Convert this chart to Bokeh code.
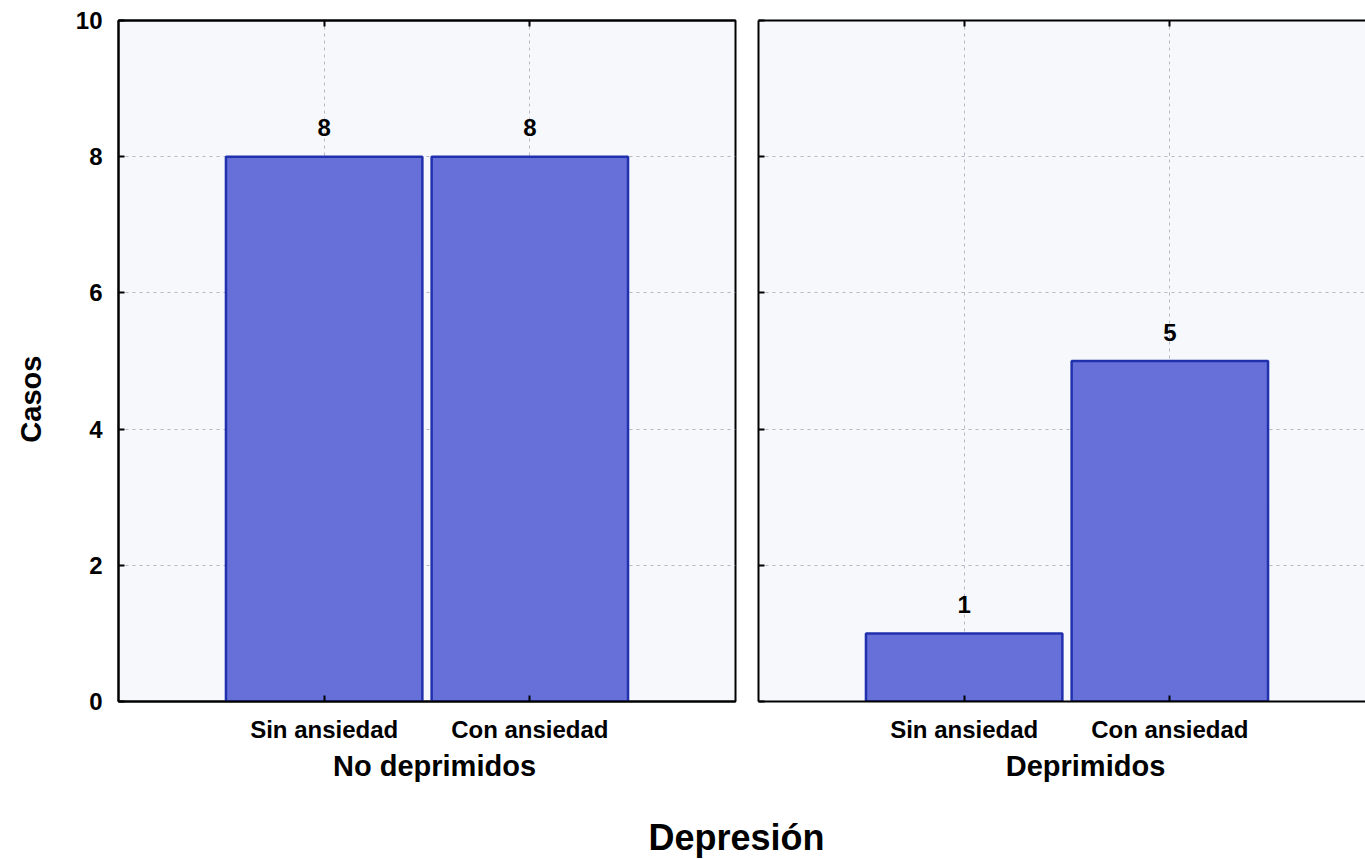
import numpy as np
from bokeh.plotting import figure
from bokeh.models import Range1d, FixedTicker, Label, LinearAxis, ColumnDataSource
from bokeh.layouts import row, column
from bokeh.embed import file_html
from bokeh.resources import INLINE
from bokeh.core.properties import value

# ---- data ----
categories = ["Sin ansiedad", "Con ansiedad"]
groups = ["No deprimidos", "Deprimidos"]
counts_no_deprimidos = [8, 8]
counts_deprimidos = [1, 5]
y_ticks = [0, 2, 4, 6, 8, 10]
y_title = "Casos"
x_title = "Depresión"

# ---- style ----
FONT = "Liberation Sans"
BAR_FILL = "#6670d8"
BAR_LINE = "#2131ad"
GRID = "#b4b8c4"
BG = "#f6f8fc"
ROW_H = 750

x_pos = list(range(1, len(categories) + 1))
x_overrides = {float(i): c for i, c in zip(x_pos, categories)}


def blank_fig(width, height, x0, x1, y_bottom, y_top):
    f = figure(width=width, height=height, x_range=Range1d(x0, x1),
               y_range=Range1d(y_bottom, y_top), output_backend="svg",
               toolbar_location=None, min_border=0, min_border_left=0,
               min_border_right=0, min_border_top=0, min_border_bottom=0,
               border_fill_color="white", background_fill_color="white")
    f.xaxis.visible = False
    f.yaxis.visible = False
    f.xgrid.visible = False
    f.ygrid.visible = False
    f.outline_line_color = None
    return f


def style_ticks(ax):
    ax.major_tick_in = 6
    ax.major_tick_out = 0
    ax.minor_tick_line_color = None
    ax.major_tick_line_width = 2
    ax.major_tick_line_color = "black"
    ax.axis_line_width = 2
    ax.axis_line_color = "black"


def make_panel(values, width, xmax, border_left, border_right, show_y_labels, outline):
    p = figure(width=width, height=ROW_H, x_range=Range1d(0, xmax), y_range=Range1d(0, 10),
               output_backend="svg", toolbar_location=None,
               min_border_left=border_left, min_border_right=border_right,
               min_border_top=20, min_border_bottom=ROW_H - 701,
               background_fill_color=BG, border_fill_color="white")
    src = ColumnDataSource(dict(x=x_pos, top=values, cat=categories,
                                label=[str(v) for v in values]))
    p.vbar(x="x", top="top", bottom=0, width=0.955, source=src,
           fill_color=BAR_FILL, line_color=BAR_LINE, line_width=2.5)
    p.text(x="x", y="top", text="label", source=src, text_align="center",
           text_baseline="alphabetic", y_offset=-29, text_font=value(FONT),
           text_font_style="bold", text_font_size="24px", text_color="black")

    xa = p.xaxis[0]
    xa.ticker = FixedTicker(ticks=x_pos)
    xa.major_label_overrides = x_overrides
    style_ticks(xa)
    xa.major_label_standoff = 14
    xa.major_label_text_font = FONT
    xa.major_label_text_font_style = "bold"
    xa.major_label_text_font_size = "24px"
    xa.major_label_text_color = "black"

    ya = p.yaxis[0]
    ya.ticker = FixedTicker(ticks=y_ticks)
    style_ticks(ya)
    if show_y_labels:
        ya.major_label_standoff = 16
        ya.major_label_text_font = FONT
        ya.major_label_text_font_style = "bold"
        ya.major_label_text_font_size = "24px"
        ya.major_label_text_color = "black"
    else:
        ya.major_label_standoff = 0
        ya.major_label_overrides = {float(t): "" for t in y_ticks}
        ya.major_label_text_font_size = "1px"

    top = LinearAxis(ticker=FixedTicker(ticks=x_pos),
                     major_label_overrides={float(t): "" for t in x_pos},
                     major_label_text_font_size="1px", major_label_standoff=0)
    style_ticks(top)
    p.add_layout(top, "above")

    p.xgrid.ticker = FixedTicker(ticks=x_pos)
    p.ygrid.ticker = FixedTicker(ticks=y_ticks)
    for g in (p.xgrid[0], p.ygrid[0]):
        g.grid_line_color = GRID
        g.grid_line_dash = "3 4"
        g.grid_line_width = 1

    if outline:
        p.outline_line_color = "black"
        p.outline_line_width = 2
    else:
        p.outline_line_color = None
    return p


# left strip holding the y title (data coords = page pixels)
py = blank_fig(60, ROW_H, 0, 60, ROW_H, 0)
py.add_layout(Label(x=30, y=417, text=y_title, angle=np.pi / 2,
                    text_align="center", text_baseline="middle",
                    text_font=FONT, text_font_style="bold", text_font_size="29px",
                    text_color="black"))

p1 = make_panel(counts_no_deprimidos, 685, 3.0, 58, 10, True, True)
p2 = make_panel(counts_deprimidos, 620, 607 / 205.67, 13, 0, False, False)

# bottom strip with group titles and the overall x title (data coords = page pixels)
p3 = blank_fig(1365, 859 - ROW_H, 0, 1365, 859, ROW_H)
p3.add_layout(Label(x=434, y=765, text=groups[0], text_align="center",
                    text_baseline="alphabetic", text_font=FONT, text_font_style="bold",
                    text_font_size="29px", text_color="black"))
p3.add_layout(Label(x=1085, y=765, text=groups[1], text_align="center",
                    text_baseline="alphabetic", text_font=FONT, text_font_style="bold",
                    text_font_size="29px", text_color="black"))
p3.add_layout(Label(x=736, y=837, text=x_title, text_align="center",
                    text_baseline="alphabetic", text_font=FONT, text_font_style="bold",
                    text_font_size="36px", text_color="black"))

layout = column(row(py, p1, p2), p3)
open("out.html", "w").write(file_html(layout, INLINE))
